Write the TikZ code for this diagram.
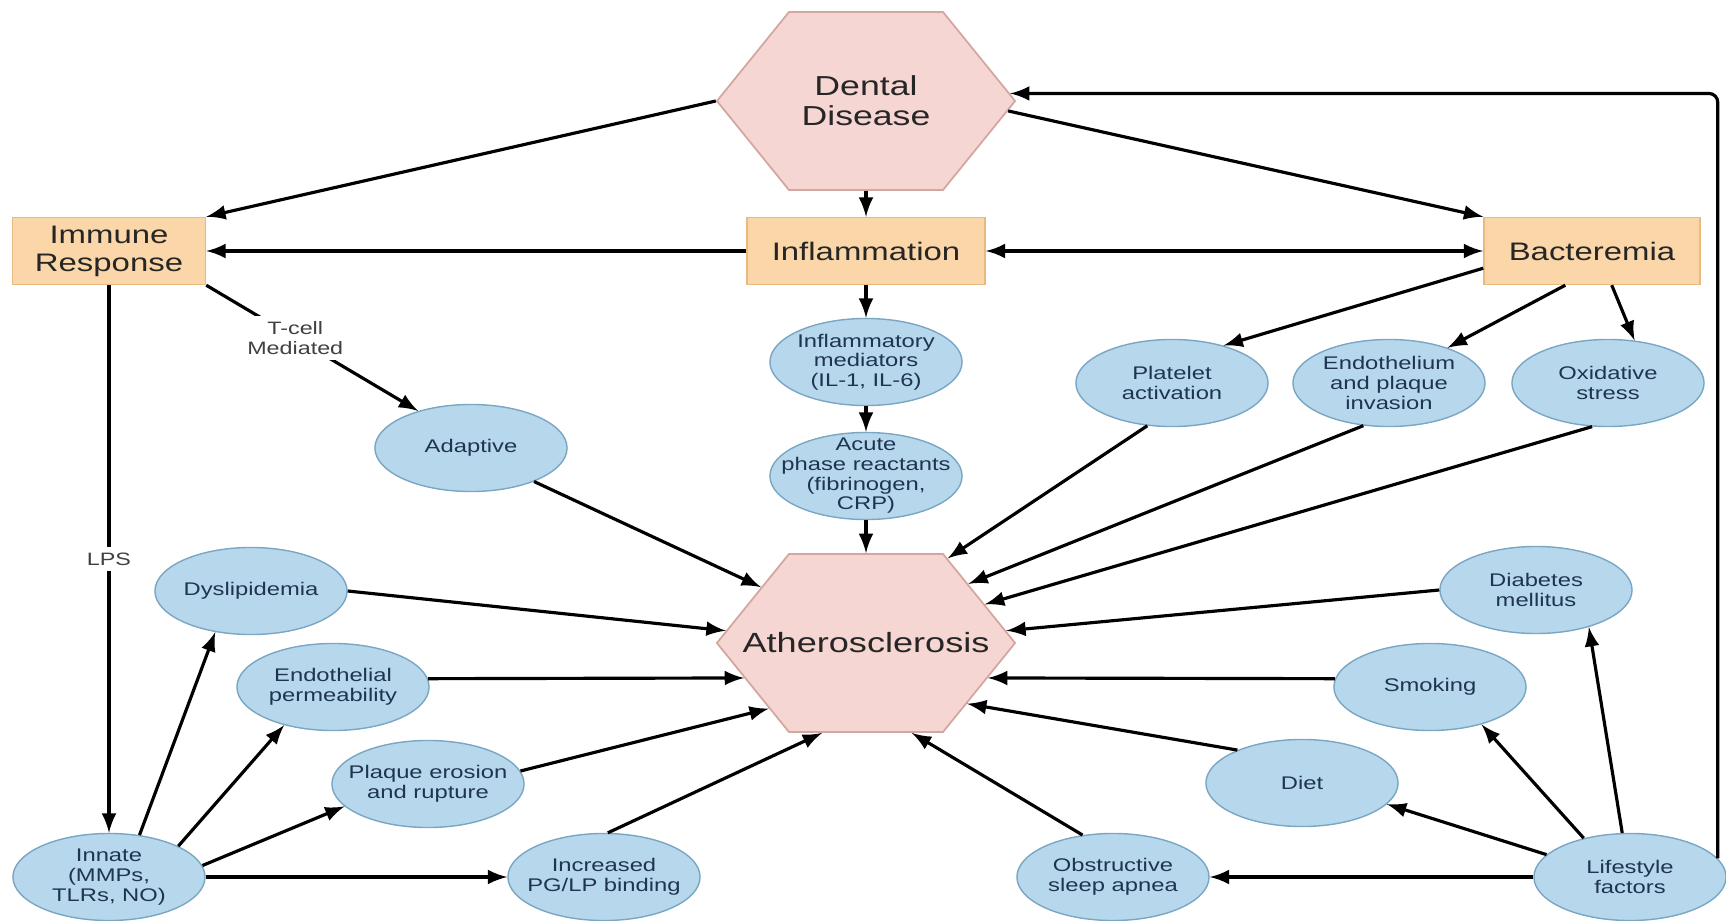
\documentclass[tikz,border=0pt]{standalone}
\usepackage{fontspec}
\usetikzlibrary{arrows,shapes.symbols,shapes.geometric}
\newfontfamily\diagfont[FakeStretch=1.3]{Liberation Sans}
\definecolor{hexpink}{RGB}{245,214,210}
\definecolor{hexline}{RGB}{212,166,160}
\definecolor{boxtan}{RGB}{250,214,168}
\definecolor{boxline}{RGB}{232,186,128}
\definecolor{ovalblue}{RGB}{183,216,236}
\definecolor{ovalline}{RGB}{122,166,196}
\definecolor{ovalink}{RGB}{30,52,82}

\begin{document}
\begin{tikzpicture}[x=0.01cm,y=-0.01cm,>=latex,
  hexnode/.style={signal,signal to=east and west,signal pointer angle=102,draw=hexline,fill=hexpink,line width=0.5pt,minimum width=2.98cm,minimum height=1.78cm,inner sep=0pt},
  hextxt/.style={align=center,text=black!85,inner sep=0pt},
  boxnode/.style={rectangle,draw=boxline,fill=boxtan,line width=0.4pt,minimum height=0.67cm,inner sep=0pt,align=center,text=black!85,font=\diagfont\fontsize{7.2}{8}\selectfont},
  ovalnode/.style={ellipse,draw=ovalline,fill=ovalblue,line width=0.4pt,minimum width=1.92cm,minimum height=0.87cm,inner sep=0pt},
  ovaltxt/.style={align=center,inner sep=0pt,text=ovalink,font=\diagfont\fontsize{5.2}{5.6}\selectfont},
  lbl/.style={fill=white,inner sep=1.5pt,align=center,text=black!75,font=\diagfont\fontsize{5.1}{5.8}\selectfont},
  conn/.style={->,line width=0.9pt}]
\useasboundingbox (0,0) rectangle (1726,921);

% hexagons and boxes
\node[hexnode,label={[hextxt,font=\diagfont\fontsize{7.8}{8.6}\selectfont]center:Dental\\Disease}] (dental) at (866,101) {};
\node[hexnode,label={[hextxt,font=\diagfont\fontsize{7.9}{8.6}\selectfont]center:Atherosclerosis}] (athero) at (866,643) {};
\node[boxnode,minimum width=1.93cm] (immune) at (109,251) {Immune\\Response};
\node[boxnode,minimum width=2.38cm] (inflam) at (866,251) {Inflammation};
\node[boxnode,minimum width=2.16cm] (bact) at (1592,251) {Bacteremia};

% ovals
\node[ovalnode,label={[ovaltxt]center:Inflammatory\\mediators\\(IL-1, IL-6)}] (medi) at (866,362) {};
\node[ovalnode,label={[ovaltxt]center:Acute\\phase reactants\\(fibrinogen,\\CRP)}] (acute) at (866,476) {};
\node[ovalnode,label={[ovaltxt]center:Adaptive}] (adapt) at (471,448) {};
\node[ovalnode,label={[ovaltxt]center:Platelet\\activation}] (platelet) at (1172,383) {};
\node[ovalnode,label={[ovaltxt]center:Endothelium\\and plaque\\invasion}] (endoinv) at (1389,383) {};
\node[ovalnode,label={[ovaltxt]center:Oxidative\\stress}] (oxid) at (1608,383) {};
\node[ovalnode,label={[ovaltxt]center:Dyslipidemia}] (dyslip) at (251,591) {};
\node[ovalnode,label={[ovaltxt]center:Endothelial\\permeability}] (endoperm) at (333,687) {};
\node[ovalnode,label={[ovaltxt]center:Plaque erosion\\and rupture}] (plaque) at (428,784) {};
\node[ovalnode,label={[ovaltxt]center:Innate\\(MMPs,\\TLRs, NO)}] (innate) at (109,877) {};
\node[ovalnode,label={[ovaltxt]center:Increased\\PG/LP binding}] (pglp) at (604,877) {};
\node[ovalnode,label={[ovaltxt]center:Diabetes\\mellitus}] (diab) at (1536,590) {};
\node[ovalnode,label={[ovaltxt]center:Smoking}] (smoke) at (1430,687) {};
\node[ovalnode,label={[ovaltxt]center:Diet}] (diet) at (1302,783) {};
\node[ovalnode,label={[ovaltxt]center:Obstructive\\sleep apnea}] (apnea) at (1113,877) {};
\node[ovalnode,label={[ovaltxt]center:Lifestyle\\factors}] (life) at (1630,877) {};

% top part
\path[conn] (dental.180) edge (immune.north east)
  (dental.south) edge (inflam.north)
  (dental.-4) edge (bact.north west)
  (inflam.west) edge (immune.east)
  (inflam.east) edge[<->] (bact.west)
  (inflam.south) edge (medi.north)
  (medi.south) edge (acute.north)
  (acute.south) edge (athero.north)
  (immune.south east) edge node[lbl,pos=0.42] {T-cell\\Mediated} (adapt.145)
  (immune.south) edge node[lbl,pos=0.5] {LPS} (innate.north);

% left side
\path[conn] (adapt.-28) edge (athero.152)
  (dyslip.east) edge (athero.175)
  (endoperm.5) edge (athero.196)
  (plaque.8) edge (athero.214)
  (pglp.85) edge (athero.244)
  (innate.54) edge (dyslip.229)
  (innate.24) edge (endoperm.218)
  (innate.7) edge (plaque.195)
  (innate.east) edge (pglp.west);

% right side
\path[conn] (platelet.240) edge (athero.46)
  (endoinv.239) edge (athero.30)
  (oxid.250) edge (athero.18)
  (diab.west) edge (athero.5)
  (smoke.175) edge (athero.344)
  (diet.153) edge (athero.329)
  (apnea.126) edge (athero.297)
  (bact.189) edge (platelet.36)
  (bact.232) edge (endoinv.31)
  (bact.300) edge (oxid.58)
  (life.100) edge (diab.-35)
  (life.140) edge (smoke.-36)
  (life.165) edge (diet.-14)
  (life.west) edge (apnea.east);

\draw[conn,rounded corners=2.5pt] (life.12) |- (dental.3);

\end{tikzpicture}
\end{document}
